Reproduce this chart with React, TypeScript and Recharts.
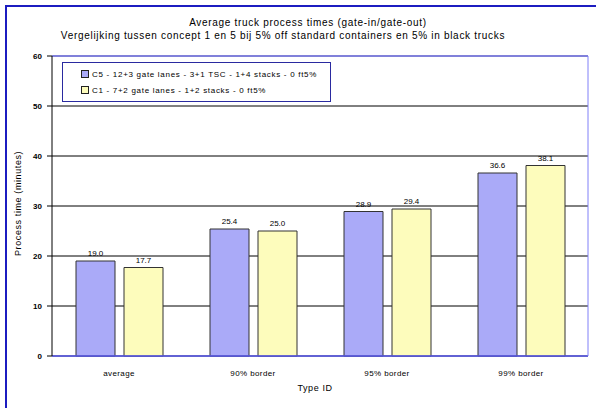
import { BarChart, Bar, XAxis, YAxis, CartesianGrid, LabelList, ReferenceLine } from 'recharts';

const CATEGORIES = ['average', '90% border', '95% border', '99% border'];
const C5_VALUES = [19.0, 25.4, 28.9, 36.6];
const C1_VALUES = [17.7, 25.0, 29.4, 38.1];
const Y_TICKS = [0, 10, 20, 30, 40, 50, 60];
const BOUNDARY_TICKS = [0, 1, 2, 3, 4];

const SERIES = [
  { key: 'c5', name: 'C5 - 12+3 gate lanes - 3+1 TSC - 1+4 stacks - 0 ft5%', color: '#aaaaf8' },
  { key: 'c1', name: 'C1 - 7+2 gate lanes - 1+2 stacks - 0 ft5%', color: '#fdfcbc' },
];

const data = CATEGORIES.map((name, i) => ({ name, idx: i + 0.5, c5: C5_VALUES[i], c1: C1_VALUES[i] }));

const FONT = '"Liberation Sans", Arial, sans-serif';

function LegendBox() {
  return (
    <div
      style={{
        position: 'absolute',
        top: 62,
        left: 62,
        boxSizing: 'border-box',
        width: 269,
        height: 40,
        border: '1px solid #2a2aa0',
        background: '#fff',
        padding: '3px 0 0 18px',
        fontFamily: FONT,
        fontSize: 8,
        letterSpacing: 0.7,
        color: '#000',
        whiteSpace: 'nowrap',
      }}
    >
      {SERIES.map((s) => (
        <div key={s.key} style={{ display: 'flex', alignItems: 'center', height: 16 }}>
          <span
            style={{
              display: 'inline-block',
              width: 6,
              height: 6,
              background: s.color,
              border: '1px solid #222',
              marginRight: 3,
            }}
          />
          {s.name}
        </div>
      ))}
    </div>
  );
}

export default function App() {
  return (
    <div
      style={{
        position: 'absolute',
        top: 0,
        left: 0,
        width: 596,
        height: 408,
        background: '#fff',
        fontFamily: FONT,
        overflow: 'hidden',
      }}
    >
      <div
        style={{
          position: 'absolute',
          left: 5,
          top: 5,
          width: 600,
          height: 420,
          borderLeft: '2px solid #1c1cc0',
          borderTop: '2px solid #1c1cc0',
        }}
      />
      <div
        style={{
          position: 'absolute',
          top: 16,
          left: 0,
          width: 596,
          textAlign: 'center',
          fontSize: 10,
          letterSpacing: 0.7,
          lineHeight: '13px',
          color: '#000',
          whiteSpace: 'nowrap',
        }}
      >
        <div style={{ paddingLeft: 20 }}>Average truck process times (gate-in/gate-out)</div>
        <div style={{ paddingRight: 30 }}>Vergelijking tussen concept 1 en 5 bij 5% off standard containers en 5% in black trucks</div>
      </div>
      <div style={{ position: 'absolute', top: 0, left: 0 }}>
        <BarChart
          width={596}
          height={408}
          data={data}
          margin={{ top: 56, right: 0, bottom: 0, left: 0 }}
          barSize={39}
          barGap={9}
        >
          <CartesianGrid xAxisId="cat" yAxisId="left" horizontal vertical={false} stroke="#000" />
          <XAxis
            xAxisId="num"
            type="number"
            dataKey="idx"
            domain={[0, 4]}
            ticks={BOUNDARY_TICKS}
            height={0}
            axisLine={{ stroke: '#5858f0' }}
            tickLine={{ stroke: '#5858f0' }}
            tickSize={4}
            tickFormatter={() => ''}
          />
          <XAxis
            xAxisId="cat"
            dataKey="name"
            height={52}
            axisLine={false}
            tickLine={false}
            tick={{ fontSize: 8, fill: '#000', fontFamily: FONT, letterSpacing: 0.4 }}
            tickMargin={8}
            label={{ value: 'Type ID', position: 'insideBottom', offset: 17, dx: -5, fontSize: 9, fill: '#000', fontFamily: FONT, letterSpacing: 0.6 }}
          />
          <YAxis
            yAxisId="left"
            domain={[0, 60]}
            ticks={Y_TICKS}
            width={52}
            axisLine={{ stroke: '#000' }}
            tickLine={{ stroke: '#000' }}
            tickSize={5}
            tickMargin={5}
            tick={{ fontSize: 8, fill: '#000', fontFamily: FONT, fontWeight: 'bold' }}
            label={{ value: 'Process time (minutes)', angle: -90, position: 'insideLeft', offset: 18, dy: 50, fontSize: 9, fill: '#000', fontFamily: FONT, letterSpacing: 0.6 }}
          />
          <YAxis
            yAxisId="right"
            orientation="right"
            domain={[0, 60]}
            width={8}
            tick={false}
            axisLine={{ stroke: '#8080f8' }}
            tickLine={false}
          />
          <ReferenceLine yAxisId="left" xAxisId="cat" y={60} stroke="#8080f8" strokeWidth={1.5} />
          <ReferenceLine yAxisId="left" xAxisId="cat" y={0} stroke="#5858f0" strokeWidth={1.5} />
          {SERIES.map((s) => (
            <Bar
              key={s.key}
              dataKey={s.key}
              name={s.name}
              xAxisId="cat"
              yAxisId="left"
              fill={s.color}
              stroke="#333"
              strokeWidth={1}
              isAnimationActive={false}
            >
              <LabelList
                dataKey={s.key}
                position="top"
                offset={5}
                formatter={(v: any) => Number(v).toFixed(1)}
                style={{ fontSize: 8, fill: '#000', fontFamily: FONT }}
              />
            </Bar>
          ))}
        </BarChart>
      </div>
      <LegendBox />
    </div>
  );
}
